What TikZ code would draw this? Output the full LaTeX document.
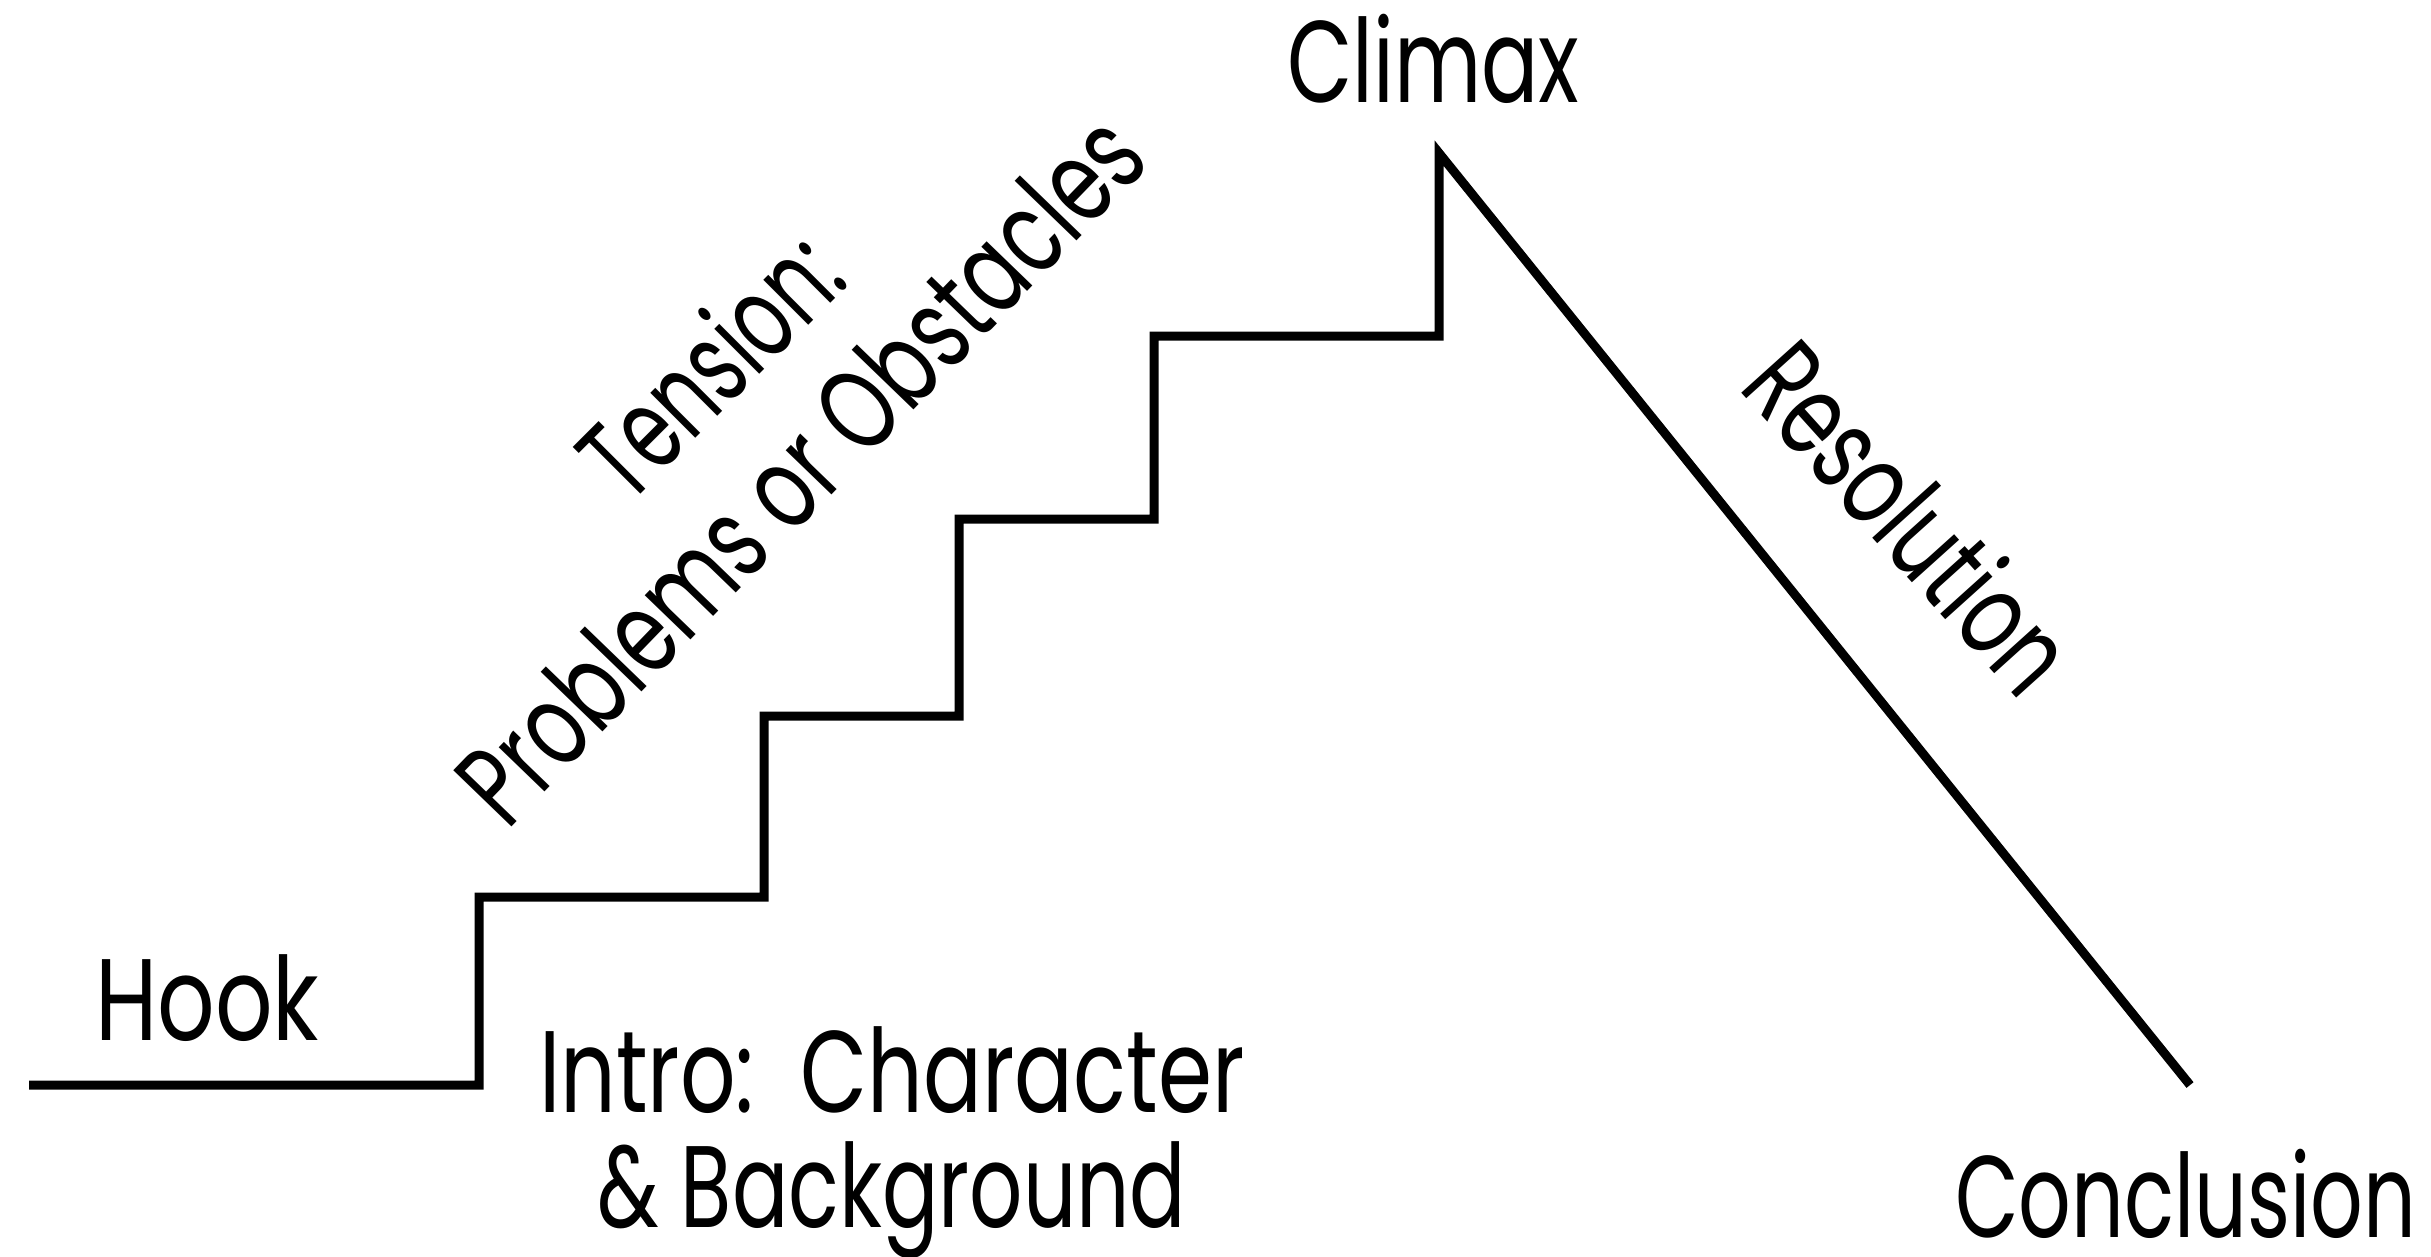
\documentclass[tikz,border=0pt]{standalone}
\usepackage{fontspec}
\usepackage{graphicx}
\setmainfont{Poppins}
\newcommand{\fitw}[2]{\resizebox{#1}{\height}{#2}}
\tikzset{
  lbl/.style={inner sep=0pt, outer sep=0pt, anchor=base west, font=\fontsize{33}{40}\selectfont},
  plotline/.style={line width=0.09cm, line join=miter, line cap=butt, black}
}
\begin{document}
\begin{tikzpicture}[x=0.01cm, y=-0.01cm]
\useasboundingbox[fill=white] (0,0) rectangle (2431,1256);
% stair corners
\coordinate (s0) at (29,1085);
\coordinate (s1) at (479,1085);
\coordinate (s2) at (479,897);
\coordinate (s3) at (764,897);
\coordinate (s4) at (764,716);
\coordinate (s5) at (959,716);
\coordinate (s6) at (959,519);
\coordinate (s7) at (1154,519);
\coordinate (s8) at (1154,336);
\coordinate (s9) at (1439,336);
\coordinate (peak) at (1439,153);
\coordinate (end) at (2190,1085);
\draw[plotline] (s0) -- (s1) -- (s2) -- (s3) -- (s4) -- (s5) -- (s6) -- (s7) -- (s8) -- (s9) -- (peak) -- (end);
% labels
\node[lbl] (hook) at (95,1040) {\fitw{2.24cm}{Hook}};
\node[lbl] (climax) at (1287,102) {\fitw{2.92cm}{Climax}};
\node[lbl] (intro) at (539,1112) {\fitw{7.05cm}{Intro:\ \ Character}};
\node[lbl] (bg) at (597,1227) {\fitw{5.89cm}{\&\ Background}};
\node[lbl] (concl) at (1955,1237) {\fitw{4.61cm}{Conclusion}};
\node[lbl, rotate=45] (tension) at (628,506) {\fitw{3.15cm}{Tension:}};
\node[lbl, rotate=46] (problems) at (507,831) {\fitw{9.28cm}{Problems or Obstacles}};
\node[lbl, rotate=-48] (resol) at (1737,388) {\fitw{4.23cm}{Resolution}};
\end{tikzpicture}
\end{document}
